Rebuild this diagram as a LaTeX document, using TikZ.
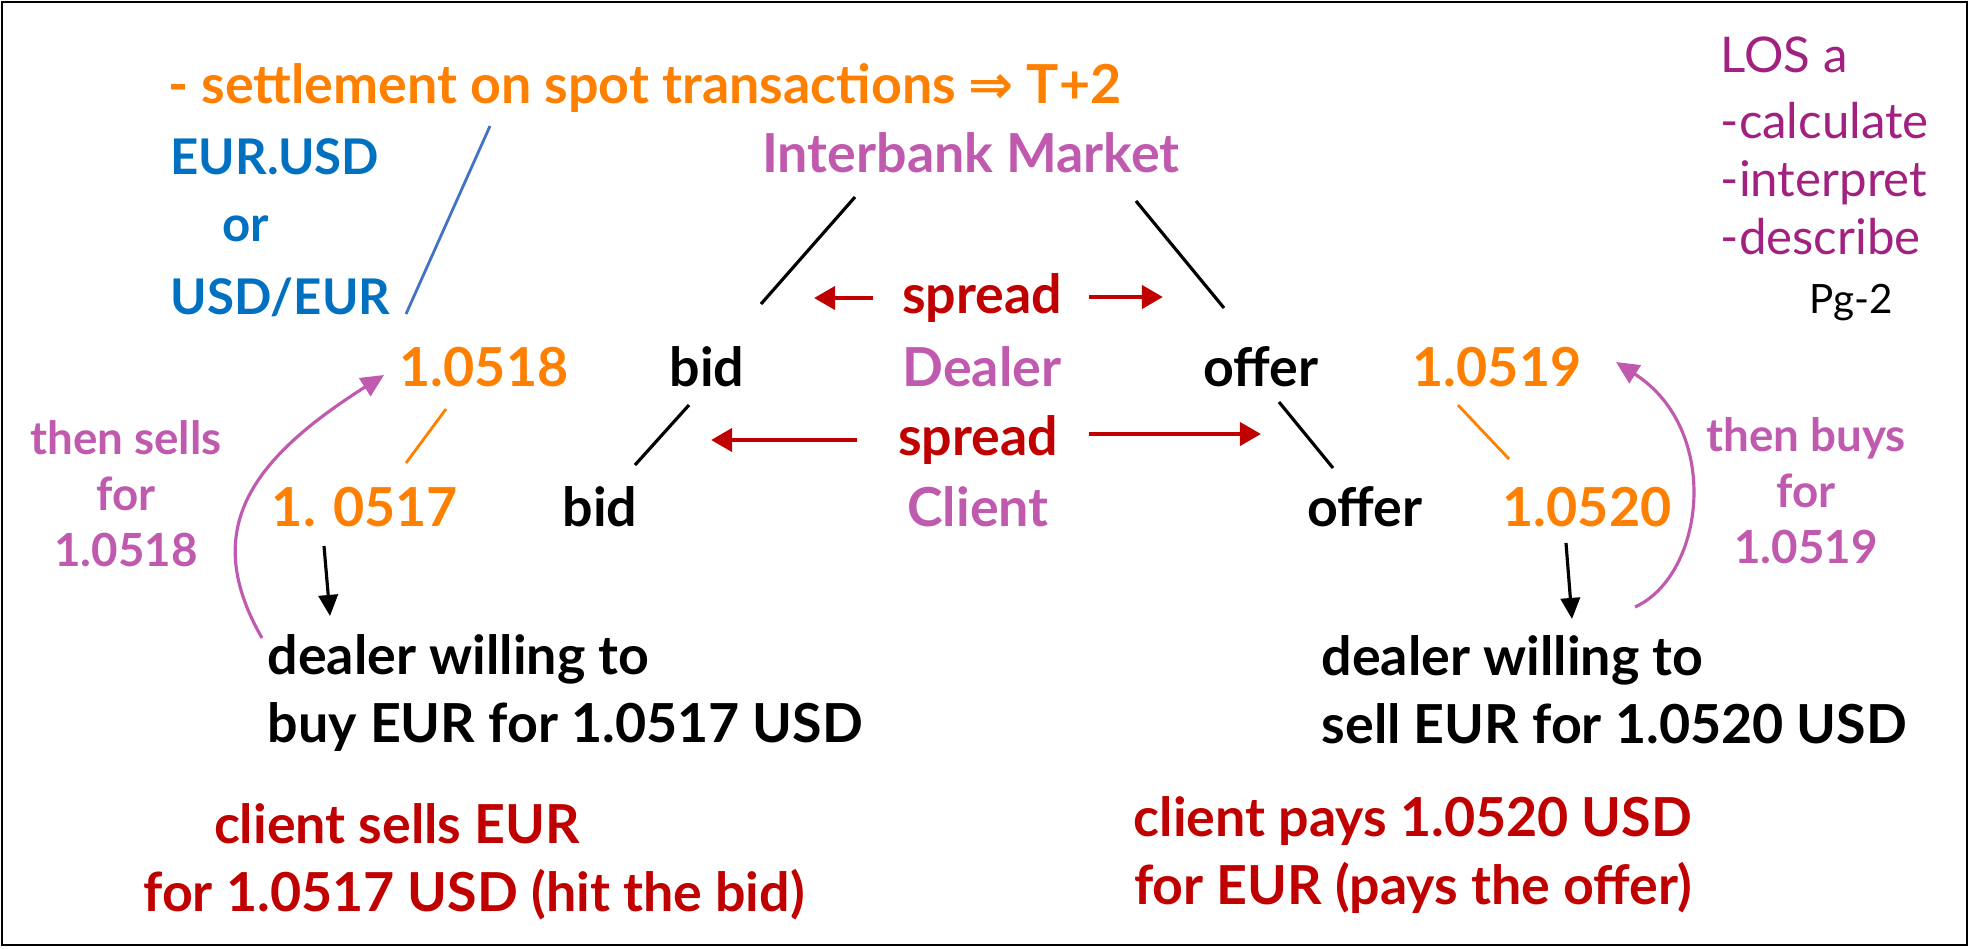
\documentclass[tikz,border=0pt]{standalone}
\usepackage{fontspec}
\setmainfont{Lato}
\newfontfamily\symfont{DejaVu Sans}
\usetikzlibrary{calc}
\usetikzlibrary{arrows.meta}
\definecolor{orng}{HTML}{FF8000}
\definecolor{blu}{HTML}{0070C0}
\definecolor{lineblu}{HTML}{4472C4}
\definecolor{pnk}{HTML}{C05AAE}
\definecolor{dred}{HTML}{C00000}
\definecolor{losc}{HTML}{A2207F}

\begin{document}
\begin{tikzpicture}[x=0.1mm,y=-0.1mm,
  big/.style={font=\fontsize{15.3}{19.3}\selectfont\bfseries, inner sep=0pt},
  pair/.style={font=\fontsize{14}{17}\selectfont\bfseries, text=blu, inner sep=0pt},
  side/.style={font=\fontsize{13}{15.9}\selectfont\bfseries, text=pnk, align=center, inner sep=0pt},
  los/.style={font=\fontsize{14}{16}\selectfont, text=losc, anchor=base west, inner sep=0pt},
  redarr/.style={dred, line width=1.3pt, -{Triangle[length=6pt,width=6.5pt]}},
  blkarr/.style={black, line width=0.9pt, -{Triangle[length=6pt,width=5.5pt]}},
  pnkarr/.style={pnk, line width=0.9pt, -{Triangle[length=6.5pt,width=6pt]}},
  thin/.style={line width=0.9pt}]
  \useasboundingbox (0,0) rectangle (1972,948);
  \draw[line width=0.8pt] (2,2) rectangle (1967,945);

  % header and currency pair
  \node[big, text=orng] (settle) at (645,88) {- settlement on spot transactions {\symfont ⇒} T+2};
  \node[pair, anchor=west] (eurusd) at (170,157) {EUR.USD};
  \node[pair] (orw) at (246,229) {or};
  \node[pair, anchor=west] (usdeur) at (170,297) {USD/EUR};
  \coordinate (bl1) at (490,126);
  \coordinate (bl2) at (406,314);
  \draw[lineblu, line width=0.8pt] (bl1) -- (bl2);

  % market triangle
  \node[big, text=pnk] (ibm) at (971,153) {Interbank Market};
  \node[big, text=dred] (sp1) at (982,298) {spread};
  \node[big, text=pnk] (dealer) at (982,367) {Dealer};
  \node[big, text=dred] (sp2) at (978,440) {spread};
  \node[big, text=pnk] (client) at (978,507) {Client};
  \node[big] (dbid) at (707,367) {bid};
  \node[big] (doffer) at (1261,367) {offer};
  \node[big] (cbid) at (600,507) {bid};
  \node[big] (coffer) at (1365,507) {offer};

  \coordinate (ib1) at (855,197);
  \coordinate (ib2) at (761,304);
  \coordinate (ib3) at (1136,201);
  \coordinate (ib4) at (1224,308);
  \draw[thin] (ib1) -- (ib2);
  \draw[thin] (ib3) -- (ib4);
  \coordinate (bd1) at (689,405);
  \coordinate (bd2) at (635,465);
  \coordinate (of1) at (1279,402);
  \coordinate (of2) at (1333,468);
  \draw[thin] (bd1) -- (bd2);
  \draw[thin] (of1) -- (of2);

  \coordinate (sa) at (814,298);
  \coordinate (sb) at (1163,297);
  \coordinate (sc) at (711,440);
  \coordinate (sd) at (1261,434);
  \draw[redarr] ($(sp1.west)+(-28,0)$) -- (sa);
  \draw[redarr] ($(sp1.east)+(26,-1)$) -- (sb);
  \draw[redarr] ($(sp2.west)+(-40,0)$) -- (sc);
  \draw[redarr] ($(sp2.east)+(30,-6)$) -- (sd);

  % quotes
  \node[big, text=orng] (n0518) at (484,367) {1.0518};
  \node[big, text=orng] (n0517) at (365,507) {1. 0517};
  \node[big, text=orng] (n0519) at (1497,367) {1.0519};
  \node[big, text=orng] (n0520) at (1587,507) {1.0520};
  \coordinate (q1) at (446,409);
  \coordinate (q2) at (406,463);
  \coordinate (q3) at (1458,405);
  \coordinate (q4) at (1509,459);
  \draw[orng, line width=0.8pt] (q1) -- (q2);
  \draw[orng, line width=0.8pt] (q3) -- (q4);

  % dealer side notes
  \node[side] (sells) at (126,494) {then sells\\for\\1.0518};
  \node[side] (buys) at (1806,491) {then buys\\for\\1.0519};
  \node[big, align=left, anchor=west] (dlrbuy) at (267,693) {dealer willing to\\buy EUR for 1.0517 USD};
  \node[big, align=left, anchor=west] (dlrsell) at (1321,690) {dealer willing to\\sell EUR for 1.0520 USD};
  \coordinate (ar1) at (324,546);
  \coordinate (ar2) at (330,616);
  \coordinate (ar3) at (1566,543);
  \coordinate (ar4) at (1572,619);
  \draw[blkarr] (ar1) -- (ar2);
  \draw[blkarr] (ar3) -- (ar4);
  \coordinate (cv1) at (262,638);
  \coordinate (cv2) at (384,375);
  \coordinate (cv3) at (1635,607);
  \coordinate (cv4) at (1616,362);
  \draw[pnkarr] (cv1) .. controls (200,530) and (250,460) .. (cv2);
  \draw[pnkarr] (cv3) .. controls (1705,575) and (1722,430) .. (cv4);

  % client side
  \node[big, text=dred] (csell1) at (397,824) {client sells EUR};
  \node[big, text=dred] (csell2) at (474,895) {for 1.0517 USD (hit the bid)};
  \node[big, text=dred, align=center] (cpay) at (1413,855) {client pays 1.0520 USD\\for EUR (pays the offer)};

  % LOS box
  \node[los] (los1) at (1720,72) {LOS a};
  \node[los] (los2) at (1720,138) {-calculate};
  \node[los] (los3) at (1720,196) {-interpret};
  \node[los] (los4) at (1720,254) {-describe};
  \node[font=\fontsize{11.5}{13}\selectfont, inner sep=0pt, anchor=base] (pg) at (1851,313) {Pg-2};
\end{tikzpicture}
\end{document}
